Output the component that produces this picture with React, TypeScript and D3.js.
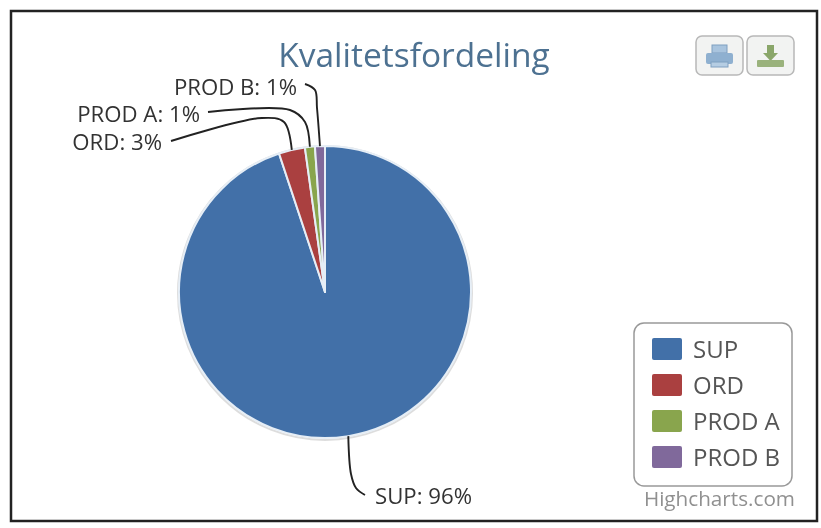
import React, { useEffect, useRef } from 'react';
import * as d3 from 'd3';

const categories = ['SUP', 'ORD', 'PROD A', 'PROD B'];
// slice sizes as measured on the picture
const sliceValues = [94.9, 2.9, 1.1, 1.1];
// percentages as printed in the labels
const labelPercents = [96, 3, 1, 1];
const colors = ['#4270a8', '#aa3f3f', '#89a54e', '#80699b'];

const FONT = '"Open Sans", "DejaVu Sans", sans-serif';

const App: React.FC = () => {
  const svgRef = useRef<SVGSVGElement>(null);

  useEffect(() => {
    if (!svgRef.current) return;

    const width = 821;
    const height = 528;
    const cx = 325;
    const cy = 292;
    const radius = 146;

    const svg = d3.select(svgRef.current)
      .attr('width', width)
      .attr('height', height);
    svg.selectAll('*').remove();

    // Soft blur, the source is a low quality screenshot
    const defs = svg.append('defs');
    defs.append('filter').attr('id', 'soft')
      .append('feGaussianBlur').attr('stdDeviation', 0.6);

    const root = svg.append('g').attr('filter', 'url(#soft)');

    root.append('rect')
      .attr('x', 11).attr('y', 11)
      .attr('width', 806).attr('height', 510)
      .attr('fill', '#fff')
      .attr('stroke', '#222').attr('stroke-width', 2.5);

    root.append('text')
      .attr('x', 414).attr('y', 67)
      .attr('text-anchor', 'middle')
      .attr('font-family', FONT)
      .attr('font-size', 33.5)
      .attr('fill', '#4d7191')
      .text('Kvalitetsfordeling');

    // Pie, clockwise from 12 o'clock
    const pie = d3.pie<number>().value(d => d).sort(null);
    const arcs = pie(sliceValues);
    const arc = d3.arc<d3.PieArcDatum<number>>().innerRadius(0).outerRadius(radius);

    const g = root.append('g').attr('transform', `translate(${cx},${cy})`);

    g.append('circle')
      .attr('r', radius + 1)
      .attr('cy', 1)
      .attr('fill', 'none')
      .attr('stroke', '#bbb')
      .attr('stroke-width', 2)
      .attr('opacity', 0.5);

    g.selectAll('.slice')
      .data(arcs)
      .enter()
      .append('path')
      .attr('class', 'slice')
      .attr('d', arc)
      .attr('fill', (_, i) => colors[i])
      .attr('stroke', '#e6eef6')
      .attr('stroke-width', 2)
      .attr('stroke-linejoin', 'round');

    // Label placement, in chart pixels: text end/start, baseline and connector bends
    const labelLayout = [
      { x: 375, y: 504, anchor: 'start', bends: [[351, 474], [356, 488], [365, 495]] },
      { x: 162, y: 150, anchor: 'end', bends: [[171, 141], [262, 118], [284, 122]] },
      { x: 200, y: 122, anchor: 'end', bends: [[208, 112], [290, 110], [305, 122]] },
      { x: 297, y: 95, anchor: 'end', bends: [[305, 84], [315, 90], [317, 108]] },
    ];

    const connector = d3.line().curve(d3.curveCatmullRom.alpha(0.5));

    arcs.forEach((d, i) => {
      const mid = d.startAngle + (d.endAngle - d.startAngle) / 2;
      const edge: [number, number] = [
        cx + Math.sin(mid) * radius,
        cy - Math.cos(mid) * radius,
      ];
      const layout = labelLayout[i];
      const pts = (i === 0
        ? [edge, ...layout.bends]
        : [...layout.bends, edge]) as [number, number][];

      root.append('path')
        .attr('d', connector(pts))
        .attr('fill', 'none')
        .attr('stroke', '#222')
        .attr('stroke-width', 1.9);

      root.append('text')
        .attr('x', layout.x)
        .attr('y', layout.y)
        .attr('text-anchor', layout.anchor)
        .attr('font-family', FONT)
        .attr('font-size', 22.2)
        .attr('fill', '#333')
        .text(`${categories[i]}: ${labelPercents[i]}%`);
    });

    // Legend
    root.append('rect')
      .attr('x', 634).attr('y', 323)
      .attr('width', 158).attr('height', 163)
      .attr('rx', 10)
      .attr('fill', '#fff')
      .attr('stroke', '#999').attr('stroke-width', 1.5);

    const legendY = d3.scalePoint<string>()
      .domain(categories)
      .range([349, 457]);

    const legend = root.selectAll('.legend-item')
      .data(categories)
      .enter()
      .append('g')
      .attr('class', 'legend-item')
      .attr('transform', d => `translate(652,${legendY(d)})`);

    legend.append('rect')
      .attr('y', -11)
      .attr('width', 30).attr('height', 22)
      .attr('rx', 2)
      .attr('fill', (_, i) => colors[i]);

    legend.append('text')
      .attr('x', 41).attr('y', 8.5)
      .attr('font-family', FONT)
      .attr('font-size', 24)
      .attr('fill', '#555')
      .text(d => d);

    root.append('text')
      .attr('x', 795).attr('y', 506)
      .attr('text-anchor', 'end')
      .attr('font-family', FONT)
      .attr('font-size', 20.7)
      .attr('fill', '#909090')
      .text('Highcharts.com');

    // Export buttons
    const buttons = root.selectAll('.btn')
      .data([696, 747])
      .enter()
      .append('g')
      .attr('class', 'btn')
      .attr('transform', d => `translate(${d},36)`);

    buttons.append('rect')
      .attr('width', 47).attr('height', 39)
      .attr('rx', 6)
      .attr('fill', '#f2f3f2')
      .attr('stroke', '#b8b8b8').attr('stroke-width', 1.5);

    // Printer
    const printer = root.append('g').attr('transform', 'translate(696,36)');
    printer.append('rect').attr('x', 16).attr('y', 9).attr('width', 15).attr('height', 8).attr('fill', '#a9c4de').attr('stroke', '#7f9fc0');
    printer.append('rect').attr('x', 10).attr('y', 17).attr('width', 27).attr('height', 11).attr('rx', 2).attr('fill', '#8fb0d0');
    printer.append('rect').attr('x', 15).attr('y', 26).attr('width', 17).attr('height', 5).attr('fill', '#b5cde3').attr('stroke', '#7f9fc0');

    // Download arrow
    const download = root.append('g').attr('transform', 'translate(747,36)');
    download.append('path').attr('d', 'M20,9h7v8h4l-7.5,8l-7.5,-8h4z').attr('fill', '#8aa66a');
    download.append('rect').attr('x', 10).attr('y', 24).attr('width', 27).attr('height', 7).attr('rx', 1).attr('fill', '#9ab27c');
  }, []);

  return (
    <svg ref={svgRef} style={{ position: 'absolute', left: 0, top: 0, background: '#fff' }} />
  );
};

export default App;
